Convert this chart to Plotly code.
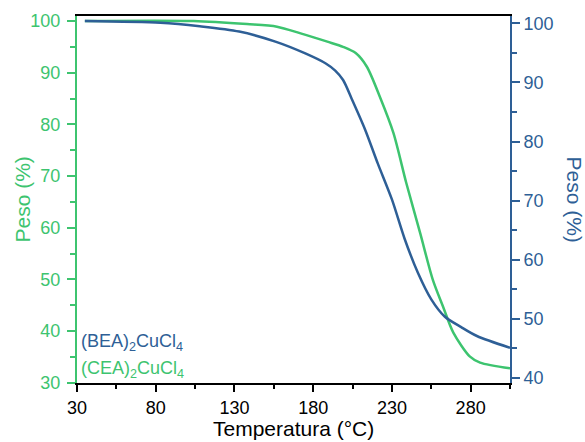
import plotly.graph_objects as go

# Thermogravimetric curves (temperature in °C, residual mass in %)
temp_bea = [35, 83, 108, 133, 156, 175, 188, 194, 199, 204.5, 213, 221, 230, 238,
            246.5, 255, 263.5, 274, 284, 305]
peso_bea = [100.4, 100.1, 99.5, 98.6, 96.9, 94.9, 93.2, 92.0, 90.4, 87.2, 82.0, 76.3,
            70.2, 63.6, 57.8, 53.3, 50.4, 48.6, 47.1, 45.1]

temp_cea = [35, 104, 138, 157, 172, 189, 199, 207, 214, 222.4, 231, 239, 248,
            256, 262.5, 269, 279.4, 286, 305]
peso_cea = [100, 100, 99.4, 98.9, 97.6, 96.0, 95.0, 93.8, 91.2, 85.3, 78.3, 68.8,
            58.9, 49.9, 44.7, 39.7, 35.1, 33.9, 32.8]

x_ticks = [30, 80, 130, 180, 230, 280]
y_left_ticks = [30, 40, 50, 60, 70, 80, 90, 100]
y_right_ticks = [40, 50, 60, 70, 80, 90, 100]

GREEN = "#3DC46F"
BLUE = "#2E5F96"
FONT = "Arial, Liberation Sans, sans-serif"

fig = go.Figure()
fig.add_trace(go.Scatter(x=temp_cea, y=peso_cea, mode="lines", yaxis="y",
                         line=dict(color=GREEN, width=2.5, shape="spline", smoothing=0.8),
                         showlegend=False))
fig.add_trace(go.Scatter(x=temp_bea, y=peso_bea, mode="lines", yaxis="y2",
                         line=dict(color=BLUE, width=2.5, shape="spline", smoothing=0.8),
                         showlegend=False))

fig.update_layout(
    width=585, height=442,
    margin=dict(l=77, r=75, t=16, b=59),
    paper_bgcolor="white", plot_bgcolor="white",
    font=dict(family=FONT, size=18, color="black"),
    xaxis=dict(
        range=[30, 305], tickmode="array", tickvals=x_ticks, automargin=False,
        ticks="outside", ticklen=7, tickwidth=1.5, tickcolor="black",
        minor=dict(dtick=25, tick0=30, ticks="outside", ticklen=4, tickwidth=1.5, tickcolor="black"),
        showline=True, linecolor="black", linewidth=1.8, mirror=True,
        showgrid=False, zeroline=False,
        tickfont=dict(size=18, color="black"),
    ),
    yaxis=dict(
        range=[29.95, 100.97], tickmode="array", tickvals=y_left_ticks, automargin=False,
        ticks="outside", ticklen=8, tickwidth=1.5, tickcolor=GREEN,
        minor=dict(dtick=5, tick0=30, ticks="outside", ticklen=5, tickwidth=1.5, tickcolor=GREEN),
        showline=True, linecolor=GREEN, linewidth=2,
        showgrid=False, zeroline=False,
        tickfont=dict(size=18, color=GREEN), ticklabelstandoff=3,
    ),
    yaxis2=dict(
        range=[39.15, 101.23], tickmode="array", tickvals=y_right_ticks, automargin=False,
        overlaying="y", side="right",
        ticks="outside", ticklen=8, tickwidth=1.5, tickcolor=BLUE,
        minor=dict(dtick=5, tick0=40, ticks="outside", ticklen=5, tickwidth=1.5, tickcolor=BLUE),
        showline=True, linecolor=BLUE, linewidth=2,
        showgrid=False, zeroline=False,
        tickfont=dict(size=18, color=BLUE),
    ),
)

# Axis titles
fig.add_annotation(text="Temperatura (°C)", xref="paper", yref="paper", x=0.5, y=0,
                   yshift=-45, xanchor="center", yanchor="middle", showarrow=False,
                   borderpad=0, font=dict(size=21, color="black", family=FONT))
fig.add_annotation(text="Peso (%)", xref="paper", yref="paper", x=0, y=0.5,
                   xshift=-55, xanchor="center", yanchor="middle",
                   textangle=-90, showarrow=False,
                   font=dict(size=21, color=GREEN, family=FONT))
fig.add_annotation(text="Peso (%)", xref="paper", yref="paper", x=1, y=0.5,
                   xshift=64, xanchor="center", yanchor="middle",
                   textangle=90, showarrow=False,
                   font=dict(size=21, color=BLUE, family=FONT))

# Sample labels
fig.add_annotation(text="(BEA)<sub>2</sub>CuCl<sub>4</sub>", xref="paper", yref="paper",
                   x=0, y=0.11, xshift=2, xanchor="left", yanchor="middle", showarrow=False,
                   font=dict(size=18, color=BLUE, family=FONT))
fig.add_annotation(text="(CEA)<sub>2</sub>CuCl<sub>4</sub>", xref="paper", yref="paper",
                   x=0, y=0.038, xshift=2, xanchor="left", yanchor="middle", showarrow=False,
                   font=dict(size=18, color=GREEN, family=FONT))

fig.write_html("out.html")
